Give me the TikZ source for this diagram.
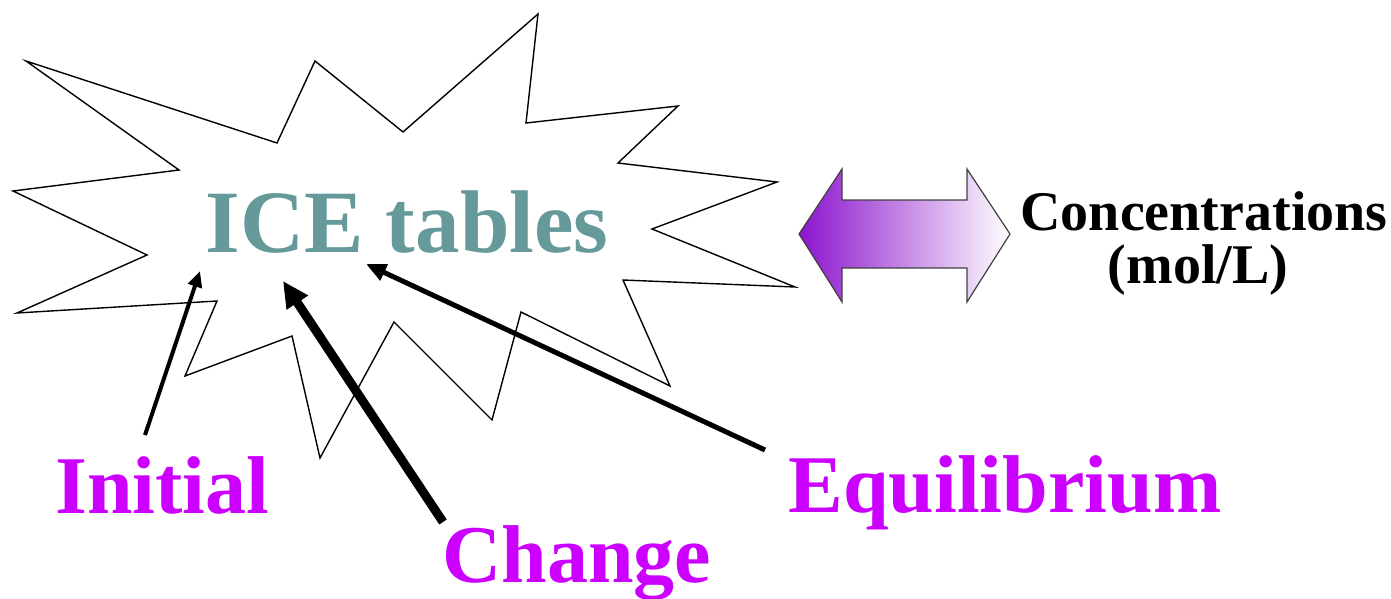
\documentclass[tikz,border=0pt]{standalone}
\usepackage{fontspec}
\setmainfont{Liberation Serif}
\usetikzlibrary{arrows.meta}
\definecolor{teal1}{HTML}{669999}
\definecolor{mag}{HTML}{CC00FF}
\definecolor{purp}{RGB}{140,20,205}
\definecolor{lav}{RGB}{212,185,232}
\tikzset{
  lbl/.style={anchor=base west, inner sep=0pt, text=mag, font=\fontsize{41pt}{41pt}\selectfont\bfseries},
  conc/.style={anchor=base, inner sep=0pt, font=\fontsize{28pt}{28pt}\selectfont\bfseries},
  burst/.style={draw=black, line width=0.7pt, line join=miter, fill=white},
  pointer/.style={draw=black, line cap=butt},
}
\begin{document}
\begin{tikzpicture}[x=0.5pt,y=-0.5pt]
\useasboundingbox (0,0) rectangle (1391,599);
% starburst
\path[burst] (26,61)--(277,143)--(315,61)--(403,132)--(538,14)--(526,123)--(678,106)--(618,163)--(777,182)--(652,229)--(795,287)--(623,280)--(670,386)--(521,312)--(492,420)--(394,322)--(320,458)--(292,336)--(185,376)--(217,301)--(17,313)--(147,255)--(13,191)--(179,170)--cycle;
% title
\node[anchor=base west, inner sep=0pt, text=teal1, font=\fontsize{44.5pt}{44.5pt}\selectfont\bfseries] (ice) at (205,252) {ICE tables};
% labels
\node[lbl] (ini) at (55,513) {Initial};
\node[lbl] (chg) at (442,582) {Change};
\node[lbl] (equ) at (788,512) {Equilibrium};
% arrow ends
\coordinate (iniS) at (145,435);
\coordinate (iniT) at (200,271);
\coordinate (chgS) at (443,522);
\coordinate (chgT) at (283,281);
\coordinate (equS) at (765,450);
\coordinate (equT) at (366,264);
\draw[pointer, line width=2pt, -{Triangle[length=8pt,width=7pt]}] (iniS) -- (iniT);
\draw[pointer, line width=4.5pt, -{Triangle[length=13pt,width=12pt]}] (chgS) -- (chgT);
\draw[pointer, line width=2.5pt, -{Triangle[length=10pt,width=8.5pt]}] (equS) -- (equT);
% double arrow
\shade[left color=purp, middle color=lav, right color=white, draw=black!75, line width=0.6pt, line join=miter]
  (799,234)--(842,169)--(842,200)--(967,200)--(967,169)--(1010,234)--(967,302)--(967,268)--(842,268)--(842,302)--cycle;
\node[conc] (conc) at (1204,230) {Concentrations};
\node[conc] (unit) at (1198,283) {(mol/L)};
\end{tikzpicture}
\end{document}
